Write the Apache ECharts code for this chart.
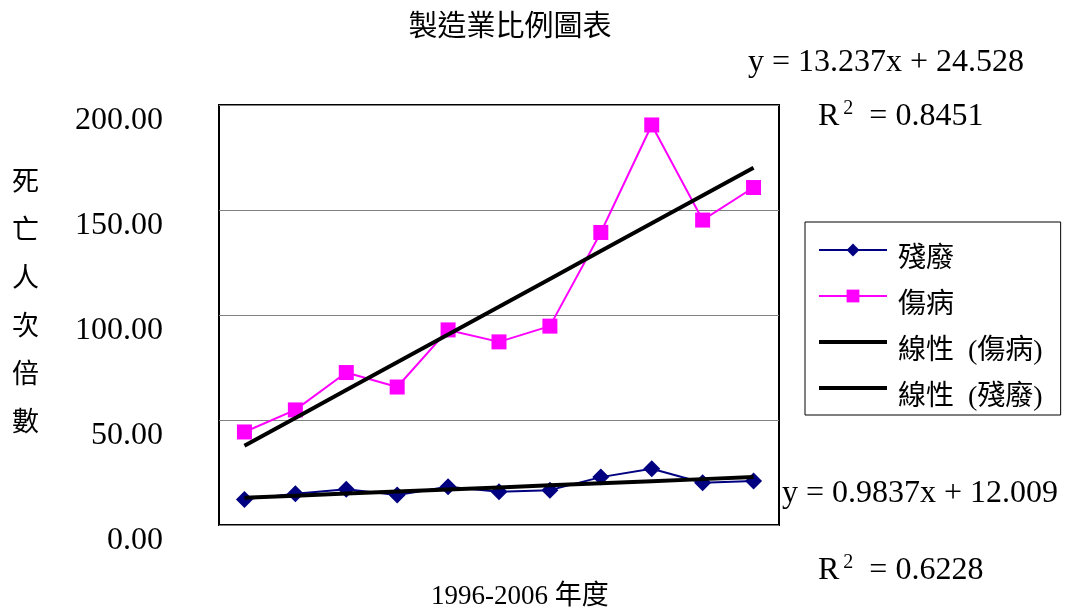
<!DOCTYPE html>
<html>
<head>
<meta charset="utf-8">
<script src="https://cdn.jsdelivr.net/npm/echarts@6/dist/echarts.min.js"></script>
<style>
  html, body { margin: 0; padding: 0; background: #fff; }
  #chart { width: 1072px; height: 612px; }
</style>
</head>
<body>
<div id="chart"></div>
<script>
// Manufacturing ratios, 1996-2006
const years = ['1996', '1997', '1998', '1999', '2000', '2001', '2002', '2003', '2004', '2005', '2006'];
const disability = [12.2, 14.9, 17.0, 14.3, 18.2, 15.8, 16.6, 22.8, 26.8, 20.1, 20.9];
const injury = [44.3, 54.8, 72.6, 65.7, 92.9, 87.2, 94.7, 139.3, 190.5, 145.2, 160.7];
const yTicks = [0, 50, 100, 150, 200];

// Linear trend coefficients [slope, intercept] with R squared
const injuryFit = [13.237, 24.528];
const injuryR2 = '0.8451';
const disabilityFit = [0.9837, 12.009];
const disabilityR2 = '0.6228';

const seriesNames = ['殘廢', '傷病', '線性 (傷病)', '線性 (殘廢)'];

const SERIF = '"Liberation Serif", "Times New Roman", "Noto Sans CJK TC", serif';
const CJK = '"Noto Sans CJK TC", "Liberation Serif", sans-serif';

function trendValues(fit) {
  return years.map((_, i) => +(fit[0] * (i + 1) + fit[1]).toFixed(3));
}

function equationText(fit) {
  return 'y = ' + fit[0] + 'x + ' + fit[1];
}

function r2Rich(val) {
  return '{r|R}{s|2}{r|  = ' + val + '}';
}
const r2Styles = {
  r: { fontFamily: SERIF, fontSize: 32, fill: '#000' },
  s: { fontFamily: SERIF, fontSize: 20, fill: '#000', padding: [0, 0, 16, 4] }
};

const chart = echarts.init(document.getElementById('chart'), null, { renderer: 'canvas' });

chart.setOption({
  backgroundColor: '#fff',
  animation: false,
  title: {
    text: '製造業比例圖表',
    left: 505,
    textAlign: 'center',
    top: 5,
    textStyle: { fontFamily: CJK, fontSize: 29, fontWeight: 'normal', color: '#000' }
  },
  grid: {
    left: 219, right: 293, top: 105, bottom: 87,
    show: true, borderColor: '#000', borderWidth: 2, backgroundColor: 'transparent'
  },
  legend: {
    orient: 'vertical',
    left: 805,
    top: 222,
    padding: [8, 18, 3, 12],
    borderColor: '#000',
    borderWidth: 1,
    itemWidth: 68,
    itemHeight: 16,
    itemGap: 2,
    data: [
      { name: seriesNames[0], lineStyle: { width: 2 } },
      { name: seriesNames[1], lineStyle: { width: 2 } },
      { name: seriesNames[2], itemStyle: { opacity: 0 }, lineStyle: { width: 4, color: '#000' } },
      { name: seriesNames[3], itemStyle: { opacity: 0 }, lineStyle: { width: 4, color: '#000' } }
    ],
    // empty first line pushes each label slightly below its icon
    formatter: name => '{gap|}\n{t|' + name.replace(' ', '  ') + '}',
    textStyle: {
      rich: {
        gap: { lineHeight: 20, fontSize: 10 },
        t: { fontFamily: SERIF, fontSize: 28, color: '#000', lineHeight: 30, padding: [0, 0, 0, 6] }
      }
    }
  },
  xAxis: {
    type: 'category',
    data: years,
    boundaryGap: true,
    axisLine: { show: false },
    axisTick: { show: false },
    axisLabel: { show: false },
    splitLine: { show: false }
  },
  yAxis: {
    type: 'value',
    min: yTicks[0],
    max: yTicks[yTicks.length - 1],
    interval: 50,
    axisLine: { show: false },
    axisTick: { show: false },
    axisLabel: {
      margin: 56,
      formatter: v => v.toFixed(2),
      fontFamily: SERIF,
      fontSize: 32,
      lineHeight: 32,
      color: '#000',
      verticalAlign: 'top'
    },
    splitLine: { show: true, lineStyle: { color: '#808080', width: 1 } }
  },
  series: [
    {
      name: seriesNames[0],
      type: 'line',
      data: disability,
      symbol: 'diamond',
      symbolSize: 17,
      itemStyle: { color: '#000080' },
      lineStyle: { color: '#000080', width: 2 },
      z: 3
    },
    {
      name: seriesNames[1],
      type: 'line',
      data: injury,
      symbol: 'rect',
      symbolSize: 15,
      itemStyle: { color: '#ff00ff' },
      lineStyle: { color: '#ff00ff', width: 2 },
      z: 3
    },
    {
      name: seriesNames[2],
      type: 'line',
      data: trendValues(injuryFit),
      symbol: 'none',
      itemStyle: { color: '#000' },
      lineStyle: { color: '#000', width: 4 },
      z: 4
    },
    {
      name: seriesNames[3],
      type: 'line',
      data: trendValues(disabilityFit),
      symbol: 'none',
      itemStyle: { color: '#000' },
      lineStyle: { color: '#000', width: 4 },
      z: 4
    }
  ],
  graphic: [
    {
      type: 'text',
      left: 12,
      top: 157,
      style: {
        text: '死\n亡\n人\n次\n倍\n數',
        fontFamily: CJK,
        fontSize: 27,
        lineHeight: 48,
        fill: '#000'
      }
    },
    {
      type: 'text',
      left: 431,
      top: 583,
      style: { text: '1996-2006 年度', fontFamily: SERIF, fontSize: 27, fill: '#000' }
    },
    {
      type: 'text',
      left: 748,
      top: 47,
      style: { text: equationText(injuryFit), fontFamily: SERIF, fontSize: 32, fill: '#000' }
    },
    {
      type: 'text',
      left: 818,
      top: 99,
      style: { text: r2Rich(injuryR2), rich: r2Styles }
    },
    {
      type: 'text',
      left: 782,
      top: 478,
      style: { text: equationText(disabilityFit), fontFamily: SERIF, fontSize: 32, fill: '#000' }
    },
    {
      type: 'text',
      left: 818,
      top: 553,
      style: { text: r2Rich(disabilityR2), rich: r2Styles }
    }
  ]
});
</script>
</body>
</html>
